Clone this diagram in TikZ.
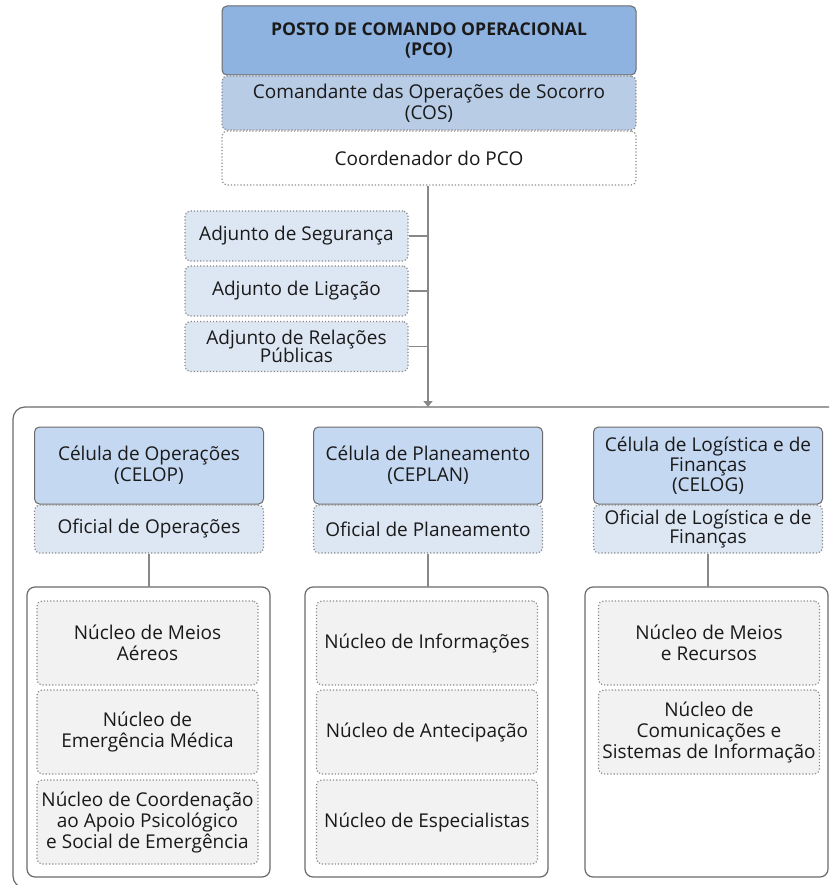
\documentclass[tikz,border=0pt]{standalone}
\usepackage{fontspec}
\setmainfont{Open Sans}
\usetikzlibrary{arrows.meta}
\definecolor{pcoblue}{HTML}{8FB3E0}
\definecolor{cosblue}{HTML}{B8CCE6}
\definecolor{celblue}{HTML}{C5D8F1}
\definecolor{adjblue}{HTML}{DDE7F3}
\definecolor{nucgray}{HTML}{F2F2F2}
\definecolor{bordergray}{HTML}{6A6A6A}
\definecolor{dotgray}{HTML}{8A8A8A}
\definecolor{linkgray}{HTML}{888888}
\definecolor{txt}{HTML}{1A1A1A}
\begin{document}
\begin{tikzpicture}[x=1pt,y=-1pt,
  box/.style={rectangle, rounded corners=5pt, align=center, inner sep=2pt,
    font=\fontsize{19}{21}\selectfont, text=txt},
  mainbox/.style={box, draw=bordergray, line width=1pt},
  dotbox/.style={box, draw=dotgray, dotted, line width=1.2pt},
  link/.style={draw=linkgray, line width=1.5pt},
  groupbox/.style={draw=bordergray, line width=1.2pt, rounded corners=8pt},
  pco/.style={mainbox, fill=pcoblue, minimum width=414pt, minimum height=69pt,
    font=\fontsize{17.6}{20}\selectfont\bfseries},
  topdot/.style={dotbox, minimum width=414pt, minimum height=54pt},
  adj/.style={dotbox, fill=adjblue, minimum width=223pt, minimum height=50pt},
  cel/.style={mainbox, fill=celblue, minimum width=229pt, minimum height=77pt},
  ofi/.style={dotbox, fill=adjblue, minimum width=229pt, minimum height=48pt},
  nuc/.style={dotbox, fill=nucgray, minimum width=221pt, minimum height=84pt}
]
\useasboundingbox (0,0) rectangle (829,885);

% top block
\node[pco] (pco) at (429,40.5) {POSTO DE COMANDO OPERACIONAL\\(PCO)};
\node[topdot, fill=cosblue] (cos) at (429,103) {Comandante das Operações de Socorro\\(COS)};
\node[topdot, fill=white] (coord) at (429,158) {Coordenador do PCO};

% adjuntos
\node[adj] (adjseg) at (296.5,236) {Adjunto de Segurança};
\node[adj] (adjlig) at (296.5,291) {Adjunto de Ligação};
\node[adj] (adjrp) at (296.5,346.5) {Adjunto de Relações\\[-3pt]Públicas};

% outer container
\begin{scope}
  \clip (0,0) rectangle (829,885);
  \draw[groupbox, rounded corners=12pt] (13,407) rectangle (860,888);
\end{scope}
\coordinate (outtop) at (428,407);

% main spine
\draw[link, -{Triangle[width=9pt,length=6pt]}] (coord.south -| outtop) -- (outtop);
\foreach \a in {adjseg,adjlig,adjrp}
  \draw[link] (\a.east) -- (\a.east -| outtop);

% cells
\node[cel] (celop) at (149,465.5) {Célula de Operações\\(CELOP)};
\node[ofi] (ofop) at (149,529) {Oficial de Operações};
\node[cel] (ceplan) at (428,465.5) {Célula de Planeamento\\(CEPLAN)};
\node[ofi] (ofplan) at (428,529) {Oficial de Planeamento};
\node[cel] (celog) at (708,465.5) {Célula de Logística e de\\[-1pt]Finanças\\[-1pt](CELOG)};
\node[ofi] (oflog) at (708,529) {Oficial de Logística e de\\[-2pt]Finanças};

% group boxes
\draw[groupbox] (27,587) rectangle (270,877);
\draw[groupbox] (305,587) rectangle (548,877);
\draw[groupbox] (585,587) rectangle (828,877);
\coordinate (gop) at (149,587);
\coordinate (gplan) at (428,587);
\coordinate (glog) at (708,587);
\draw[link] (ofop.south) -- (gop);
\draw[link] (ofplan.south) -- (gplan);
\draw[link] (oflog.south) -- (glog);

% nucleos - operacoes
\node[nuc] (nma) at (147.5,643) {Núcleo de Meios\\Aéreos};
\node[nuc] (nem) at (147.5,732) {Núcleo de\\Emergência Médica};
\node[nuc] (ncap) at (147.5,822) {Núcleo de Coordenação\\ao Apoio Psicológico\\e Social de Emergência};

% nucleos - planeamento
\node[nuc] (ninf) at (427,643) {Núcleo de Informações};
\node[nuc] (nant) at (427,732) {Núcleo de Antecipação};
\node[nuc] (nesp) at (427,822) {Núcleo de Especialistas};

% nucleos - logistica
\node[nuc] (nmr) at (709,643) {Núcleo de Meios\\e Recursos};
\node[nuc] (ncsi) at (709,732) {Núcleo de\\Comunicações e\\Sistemas de Informação};
\end{tikzpicture}
\end{document}
